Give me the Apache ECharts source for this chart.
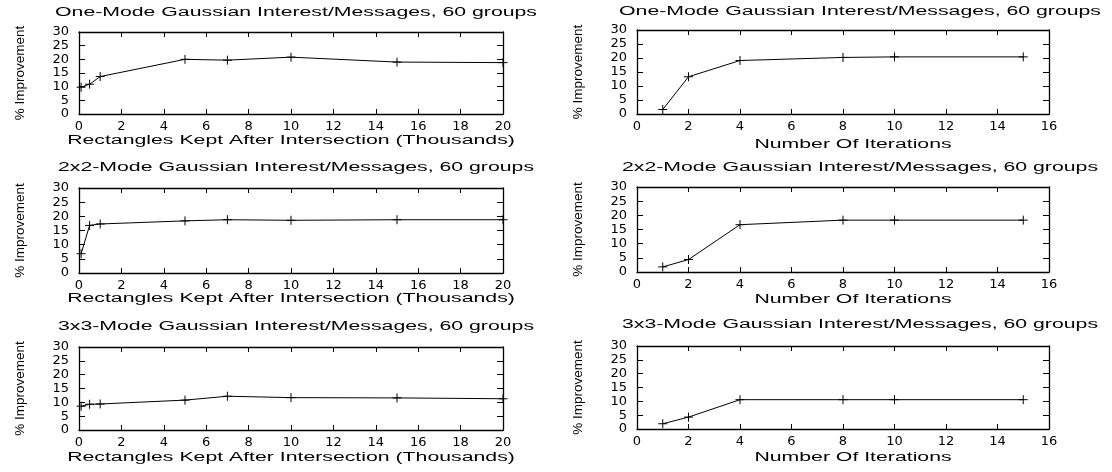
<!DOCTYPE html>
<html>
<head>
<meta charset="utf-8">
<script src="https://cdn.jsdelivr.net/npm/echarts@6/dist/echarts.min.js"></script>
<style>
html,body{margin:0;padding:0;background:#fff;}
#c{width:1112px;height:472px;}
</style>
</head>
<body>
<div id="c"></div>
<script>
// ---- data ----
const rectKept = [0.1, 0.5, 1, 5, 7, 10, 15, 20];      // thousands
const iterations = [1, 2, 4, 8, 10, 15];
const oneModeRect = [9.8, 10.9, 13.7, 20.0, 19.7, 20.8, 19.0, 18.8];
const twoModeRect = [6.8, 16.8, 17.3, 18.4, 18.8, 18.6, 18.8, 18.8];
const threeModeRect = [8.6, 9.3, 9.4, 10.8, 12.2, 11.7, 11.6, 11.3];
const oneModeIter = [1.6, 13.3, 19.1, 20.2, 20.4, 20.4];
const twoModeIter = [1.8, 4.4, 16.7, 18.3, 18.3, 18.3];
const threeModeIter = [1.9, 4.3, 10.6, 10.6, 10.6, 10.6];
const titles = [
  "One-Mode Gaussian Interest/Messages, 60 groups",
  "One-Mode Gaussian Interest/Messages, 60 groups",
  "2x2-Mode Gaussian Interest/Messages, 60 groups",
  "2x2-Mode Gaussian Interest/Messages, 60 groups",
  "3x3-Mode Gaussian Interest/Messages, 60 groups",
  "3x3-Mode Gaussian Interest/Messages, 60 groups"
];
const xNameLeft = "Rectangles Kept After Intersection (Thousands)";
const xNameRight = "Number Of Iterations";
const yName = "% Improvement";

// ---- layout ----
const panels = [
  {l:79,  r:503,  t:32,  b:114, xs:rectKept,   ys:oneModeRect,   xmax:20, title:titles[0], tx:296, ty:12.5, xname:xNameLeft,  nx:291, ny:141},
  {l:637, r:1049, t:30,  b:114, xs:iterations, ys:oneModeIter,   xmax:16, title:titles[1], tx:860, ty:12,   xname:xNameRight, nx:853, ny:145},
  {l:79,  r:503,  t:188, b:273, xs:rectKept,   ys:twoModeRect,   xmax:20, title:titles[2], tx:296, ty:167.5,xname:xNameLeft,  nx:291, ny:299},
  {l:637, r:1049, t:187, b:272, xs:iterations, ys:twoModeIter,   xmax:16, title:titles[3], tx:860, ty:167.5,xname:xNameRight, nx:853, ny:300},
  {l:79,  r:503,  t:347, b:430, xs:rectKept,   ys:threeModeRect, xmax:20, title:titles[4], tx:296, ty:327,  xname:xNameLeft,  nx:291, ny:458},
  {l:637, r:1049, t:346, b:429, xs:iterations, ys:threeModeIter, xmax:16, title:titles[5], tx:860, ty:324.5,xname:xNameRight, nx:853, ny:458}
];

const W = 1112, H = 472;
const tickFont = {fontFamily:'DejaVu Sans', fontSize:13, color:'#000'};
const axisLine = {show:true, onZero:false, lineStyle:{color:'#000', width:1.3}};
const tickStyle = {color:'#000', width:1};
const grid = [], xAxis = [], yAxis = [], series = [], graphic = [];

panels.forEach((p, i) => {
  grid.push({left:p.l, top:p.t, width:p.r - p.l, height:p.b - p.t, containLabel:false});
  xAxis.push({type:'value', gridIndex:i, position:'bottom', min:0, max:p.xmax, interval:2,
    axisLine:axisLine, axisTick:{show:true, inside:true, length:5, lineStyle:tickStyle},
    axisLabel:Object.assign({margin:6}, tickFont), splitLine:{show:false}});
  xAxis.push({type:'value', gridIndex:i, position:'top', min:0, max:p.xmax, interval:2,
    axisLine:axisLine, axisTick:{show:true, inside:true, length:5, lineStyle:tickStyle},
    axisLabel:{show:false}, splitLine:{show:false}});
  yAxis.push({type:'value', gridIndex:i, position:'left', min:0, max:30, interval:5,
    name:yName, nameLocation:'middle', nameGap:52,
    nameTextStyle:{fontFamily:'Liberation Sans', fontSize:13.5, color:'#000'},
    axisLine:axisLine, axisTick:{show:true, inside:true, length:6, lineStyle:tickStyle},
    axisLabel:Object.assign({margin:10}, tickFont), splitLine:{show:false}});
  yAxis.push({type:'value', gridIndex:i, position:'right', min:0, max:30, interval:5,
    axisLine:axisLine, axisTick:{show:true, inside:true, length:6, lineStyle:tickStyle},
    axisLabel:{show:false}, splitLine:{show:false}});
  series.push({type:'line', xAxisIndex:2*i, yAxisIndex:2*i,
    data:p.xs.map((x, k) => [x, p.ys[k]]),
    clip:false, animation:false,
    lineStyle:{color:'#000', width:1},
    symbol:'path://M0,5L10,5M5,0L5,10', symbolSize:9, showSymbol:true,
    itemStyle:{color:'none', borderColor:'#000', borderWidth:1}});
  graphic.push({type:'text', x:p.tx, y:p.ty, scaleX:1.7, silent:true,
    style:{text:p.title, fontFamily:'Liberation Sans', fontSize:12.5, fill:'#000', align:'center', verticalAlign:'middle'}});
  graphic.push({type:'text', x:p.nx, y:p.ny, scaleX:1.7, silent:true,
    style:{text:p.xname, fontFamily:'Liberation Sans', fontSize:12.5, fill:'#000', align:'center', verticalAlign:'middle'}});
});

const chart = echarts.init(document.getElementById('c'), null, {renderer:'canvas', width:W, height:H});
chart.setOption({
  backgroundColor:'#fff',
  animation:false,
  grid, xAxis, yAxis, series, graphic
});
</script>
</body>
</html>
